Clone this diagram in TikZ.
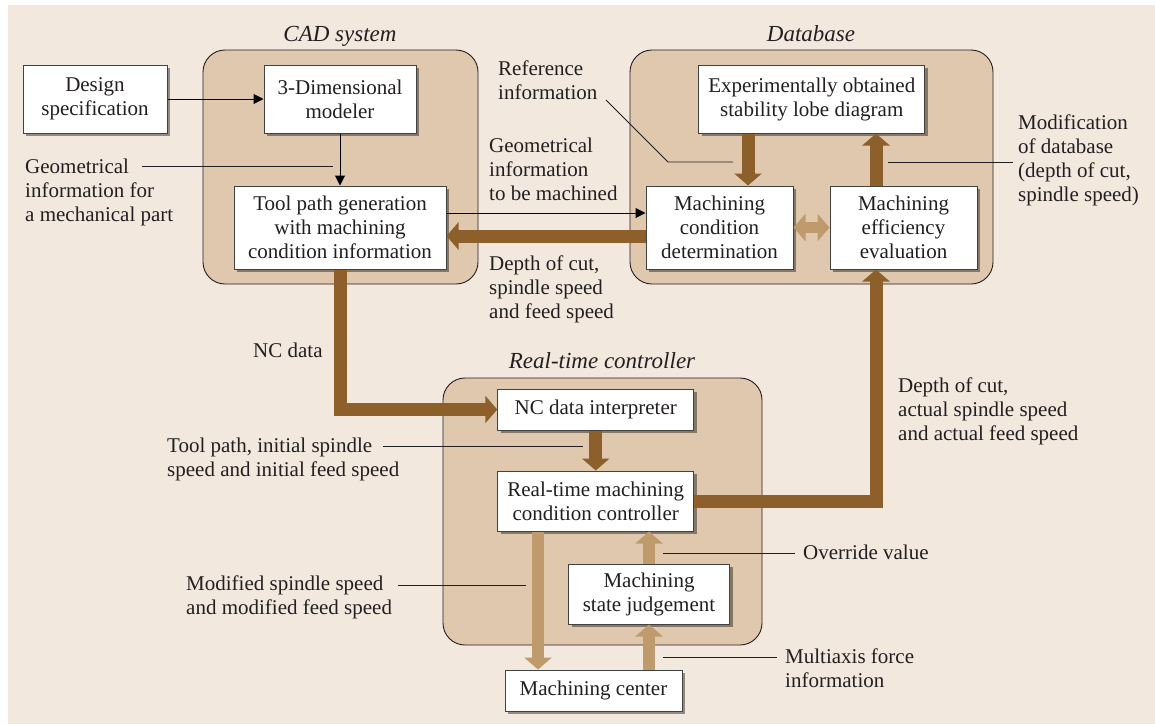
\documentclass[tikz,border=0pt]{standalone}
\usepackage{fontspec}
\setmainfont{Liberation Serif}
\usetikzlibrary{arrows.meta,shadows}
\definecolor{bgbeige}{HTML}{F3E8DE}
\definecolor{groupfill}{HTML}{DFC8AD}
\definecolor{darkflow}{HTML}{8D5F2A}
\definecolor{lightflow}{HTML}{BF9A6D}
\definecolor{inkgray}{HTML}{231F20}
\begin{document}
\begin{tikzpicture}[x=1pt,y=-1pt,
  every node/.style={text=inkgray},
  txt/.style={font=\fontsize{21}{24}\selectfont},
  note/.style={txt,align=left,anchor=base west,inner sep=0pt},
  grouptitle/.style={font=\fontsize{23}{26}\selectfont\itshape,anchor=base,inner sep=0pt},
  groupbox/.style={draw=inkgray,line width=0.9pt,fill=groupfill,rounded corners=22pt},
  procbox/.style={txt,draw=inkgray!85,line width=1pt,fill=white,align=center,inner sep=0pt,
    drop shadow={shadow xshift=3pt,shadow yshift=-3pt,fill=black,opacity=0.4}},
  thin/.style={draw=black,line width=1pt,-{Triangle[width=10pt,length=10pt]}},
  darkarrow/.style={draw=darkflow,line width=13pt,line join=miter,-{Triangle[width=27pt,length=12pt]}},
  lightarrow/.style={draw=lightflow,line width=12pt,-{Triangle[width=27pt,length=12pt]}},
  lightdouble/.style={draw=lightflow,line width=11pt,{Triangle[width=27pt,length=12pt]}-{Triangle[width=27pt,length=12pt]}},
  leader/.style={draw=inkgray,line width=0.8pt}]

% page and background
\useasboundingbox (0,0) rectangle (1155,724);
\fill[white] (0,0) rectangle (1155,724);
\fill[bgbeige] (8,5) rectangle (1155,724);

% group frames
\draw[groupbox] (203,50) rectangle (478,284);
\draw[groupbox] (630,50) rectangle (993,284);
\draw[groupbox] (443,378) rectangle (762,645);
\node[grouptitle] (cadtitle) at (340,41) {CAD system};
\node[grouptitle] (dbtitle) at (811,41) {Database};
\node[grouptitle] (rtctitle) at (602,368) {Real-time controller};

% process boxes
\node[procbox,minimum width=144pt,minimum height=68pt] (design) at (95,99) {Design\\specification};
\node[procbox,minimum width=152pt,minimum height=68pt] (modeler) at (340,99) {3-Dimensional\\modeler};
\node[procbox,minimum width=212pt,minimum height=83pt] (toolpath) at (340,227.5) {Tool path generation\\with machining\\condition information};
\node[procbox,minimum width=226pt,minimum height=68pt] (expt) at (811.75,99) {Experimentally obtained\\stability lobe diagram};
\node[procbox,minimum width=147pt,minimum height=83pt] (mcd) at (719.5,227.5) {Machining\\condition\\determination};
\node[procbox,minimum width=147pt,minimum height=83pt] (mee) at (903.5,227.5) {Machining\\efficiency\\evaluation};
\node[procbox,minimum width=196pt,minimum height=41pt] (ncdi) at (595.75,409.5) {NC data interpreter};
\node[procbox,minimum width=196pt,minimum height=60pt] (rtmcc) at (595.75,501) {Real-time machining\\condition controller};
\node[procbox,minimum width=161pt,minimum height=60pt] (msj) at (649,594) {Machining\\state judgement};
\node[procbox,minimum width=177pt,minimum height=41pt] (mc) at (593.5,690.5) {Machining center};

% connector end points
\coordinate (mcdtop) at ([xshift=28.5pt]mcd.north);
\coordinate (meetop) at ([xshift=-27.5pt]mee.north);
\coordinate (meebot) at ([xshift=-27.5pt]mee.south);
\coordinate (geomout) at ([yshift=14.5pt]toolpath.east);
\coordinate (condout) at ([yshift=-8.5pt]mcd.west);
\coordinate (rtdown) at ([xshift=-57.75pt]rtmcc.south);

% flows
\draw[thin] (design.east) -- (modeler.west);
\draw[thin] (modeler.south) -- (toolpath.north);
\draw[thin] (geomout) -- (geomout -| mcd.west);
\draw[darkarrow] (condout) -- (condout -| toolpath.east);
\draw[darkarrow] (mcdtop |- expt.south) -- (mcdtop);
\draw[darkarrow] (meetop) -- (meetop |- expt.south);
\draw[lightdouble] (mcd.east) -- (mee.west);
\draw[darkarrow] (toolpath.south) |- (ncdi.west);
\draw[darkarrow] (ncdi.south) -- (rtmcc.north);
\draw[darkarrow] (rtmcc.east) -| (meebot);
\draw[lightarrow] (rtdown) -- (rtdown |- mc.north);
\draw[lightarrow] (msj.north) -- (msj.north |- rtmcc.south);
\draw[lightarrow] (msj.south |- mc.north) -- (msj.south);

% annotations (anchored at the baseline of their last line) and leader lines
\node[note] (geompart) at (25,221) {Geometrical\\information for\\a mechanical part};
\draw[leader] (142,166) -- (333,166);

\node[note] (refinfo) at (498,99) {Reference\\information};
\draw[leader] (606,100) -- (668,162) -- (733,162);

\node[note] (geommach) at (489,200) {Geometrical\\information\\to be machined};

\node[note] (depthcut) at (489,318) {Depth of cut,\\spindle speed\\and feed speed};

\node[note] (moddb) at (1018,201) {Modification\\of database\\(depth of cut,\\spindle speed)};
\draw[leader] (888,162) -- (1013,162);

\node[note] (ncdata) at (253,357) {NC data};

\node[note] (initial) at (167,476) {Tool path, initial spindle\\speed and initial feed speed};
\draw[leader] (383,446) -- (583,446);

\node[note] (actual) at (898,440) {Depth of cut,\\actual spindle speed\\and actual feed speed};

\node[note] (modified) at (186,614) {Modified spindle speed\\and modified feed speed};
\draw[leader] (398,585) -- (526,585);

\node[note] (override) at (803,559) {Override value};
\draw[leader] (663,553) -- (795,553);

\node[note] (multiaxis) at (785,687) {Multiaxis force\\information};
\draw[leader] (663,657) -- (777,657);
\end{tikzpicture}
\end{document}
